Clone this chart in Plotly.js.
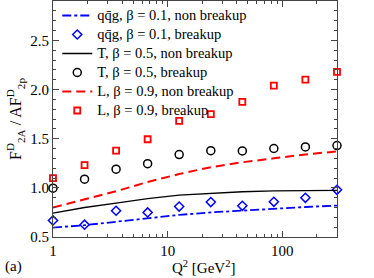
<!DOCTYPE html>
<html><head><meta charset="utf-8">
<script src="https://cdn.plot.ly/plotly-3.0.1.min.js"></script>
<style>html,body{margin:0;padding:0;background:#fff}#c{width:374px;height:278px}</style>
</head><body><div id="c"></div>
<script>
const q2 = [1, 1.885, 3.55, 6.69, 12.6, 23.8, 44.8, 84.4, 159, 300];
const qqgNon = [0.595, 0.62, 0.655, 0.69, 0.725, 0.75, 0.77, 0.79, 0.805, 0.82];
const qqgBreak = [0.668, 0.625, 0.767, 0.75, 0.81, 0.855, 0.817, 0.858, 0.899, 0.98];
const tNon = [0.743, 0.80, 0.845, 0.89, 0.925, 0.945, 0.96, 0.97, 0.975, 0.975];
const tBreak = [0.997, 1.088, 1.19, 1.246, 1.338, 1.378, 1.375, 1.40, 1.416, 1.43];
const lNon = [0.80, 0.88, 0.965, 1.06, 1.14, 1.21, 1.26, 1.30, 1.34, 1.37];
const lBreak = [1.098, 1.23, 1.378, 1.494, 1.68, 1.75, 1.875, 2.04, 2.10, 2.18];
const names = ['qq\u0304g, \u03b2 = 0.1, non breakup', 'qq\u0304g, \u03b2 = 0.1, breakup',
  'T, \u03b2 = 0.5, non breakup', 'T, \u03b2 = 0.5, breakup',
  'L, \u03b2 = 0.9, non breakup', 'L, \u03b2 = 0.9, breakup'];
const xTickVals = [1, 10, 100];
const xTickText = ['1', '10', '100'];
const xMinorVals = [2, 3, 4, 5, 6, 7, 8, 9, 20, 30, 40, 50, 60, 70, 80, 90, 200, 300];

const F = 'Liberation Serif';
const lg = s => '<span style="font-size:14.5px">' + s + '</span>';
const traces = [
  {x: q2, y: qqgNon, name: lg(names[0]), mode: 'lines', line: {color: '#0000ff', width: 1.8, dash: 'dashdot'}},
  {x: q2, y: qqgBreak, name: lg(names[1]), mode: 'markers', marker: {symbol: 'diamond-open', color: '#0000ff', size: 7, line: {width: 1.5}}},
  {x: q2, y: tNon, name: lg(names[2]), mode: 'lines', line: {color: '#000', width: 1.3}},
  {x: q2, y: tBreak, name: lg(names[3]), mode: 'markers', marker: {symbol: 'circle-open', color: '#000', size: 8, line: {width: 1.5}}},
  {x: q2, y: lNon, name: lg(names[4]), mode: 'lines', line: {color: '#ff0000', width: 2, dash: '9px,5px'}},
  {x: q2, y: lBreak, name: lg(names[5]), mode: 'markers', marker: {symbol: 'square-open', color: '#ff0000', size: 6, line: {width: 1.8}}}
];
traces.forEach(t => { t.cliponaxis = false; });

const layout = {
  width: 374, height: 278,
  margin: {l: 53, r: 37, t: 1, b: 41},
  paper_bgcolor: '#fff', plot_bgcolor: '#fff',
  font: {family: F, color: '#000', size: 15},
  showlegend: true,
  legend: {x: 0.015, y: 1, xanchor: 'left', yanchor: 'top', bgcolor: 'rgba(0,0,0,0)',
    font: {family: F, size: 11, color: '#000'}, tracegroupgap: 0, itemwidth: 30},
  xaxis: {type: 'log', range: [0, Math.log10(300)], tickvals: xTickVals, ticktext: xTickText,
    ticks: 'inside', ticklen: 6, tickcolor: '#444', showline: true, linecolor: '#444', linewidth: 1,
    mirror: 'ticks', showgrid: false, zeroline: false,
    minor: {ticks: 'inside', ticklen: 3, tickcolor: '#444', tickvals: xMinorVals, showgrid: false},
    tickfont: {family: F, size: 15}},
  yaxis: {range: [0.5, 2.9], dtick: 0.5, tick0: 0.5, tickformat: '.1f',
    ticks: 'inside', ticklen: 6, tickcolor: '#444', showline: true, linecolor: '#444', linewidth: 1,
    mirror: 'ticks', showgrid: false, zeroline: false,
    minor: {ticks: 'inside', ticklen: 3, tickcolor: '#444', dtick: 0.1, showgrid: false},
    tickfont: {family: F, size: 15},
    title: {text: 'F<sup>D</sup><sub>2A</sub> / AF<sup>D</sup><sub>2p</sub>', font: {family: F, size: 16}, standoff: 4}},
  annotations: [
    {text: 'Q<sup>2</sup> [GeV<sup>2</sup>]', xref: 'paper', yref: 'paper', x: 0.53, y: -0.125, xanchor: 'center', yanchor: 'middle', showarrow: false, font: {family: F, size: 15}},
    {text: '(a)', xref: 'paper', yref: 'paper', x: -0.175, y: -0.125, xanchor: 'left', yanchor: 'middle', showarrow: false, font: {family: F, size: 15}}
  ]
};
Plotly.newPlot('c', traces, layout, {displayModeBar: false, staticPlot: true});
</script></body></html>
